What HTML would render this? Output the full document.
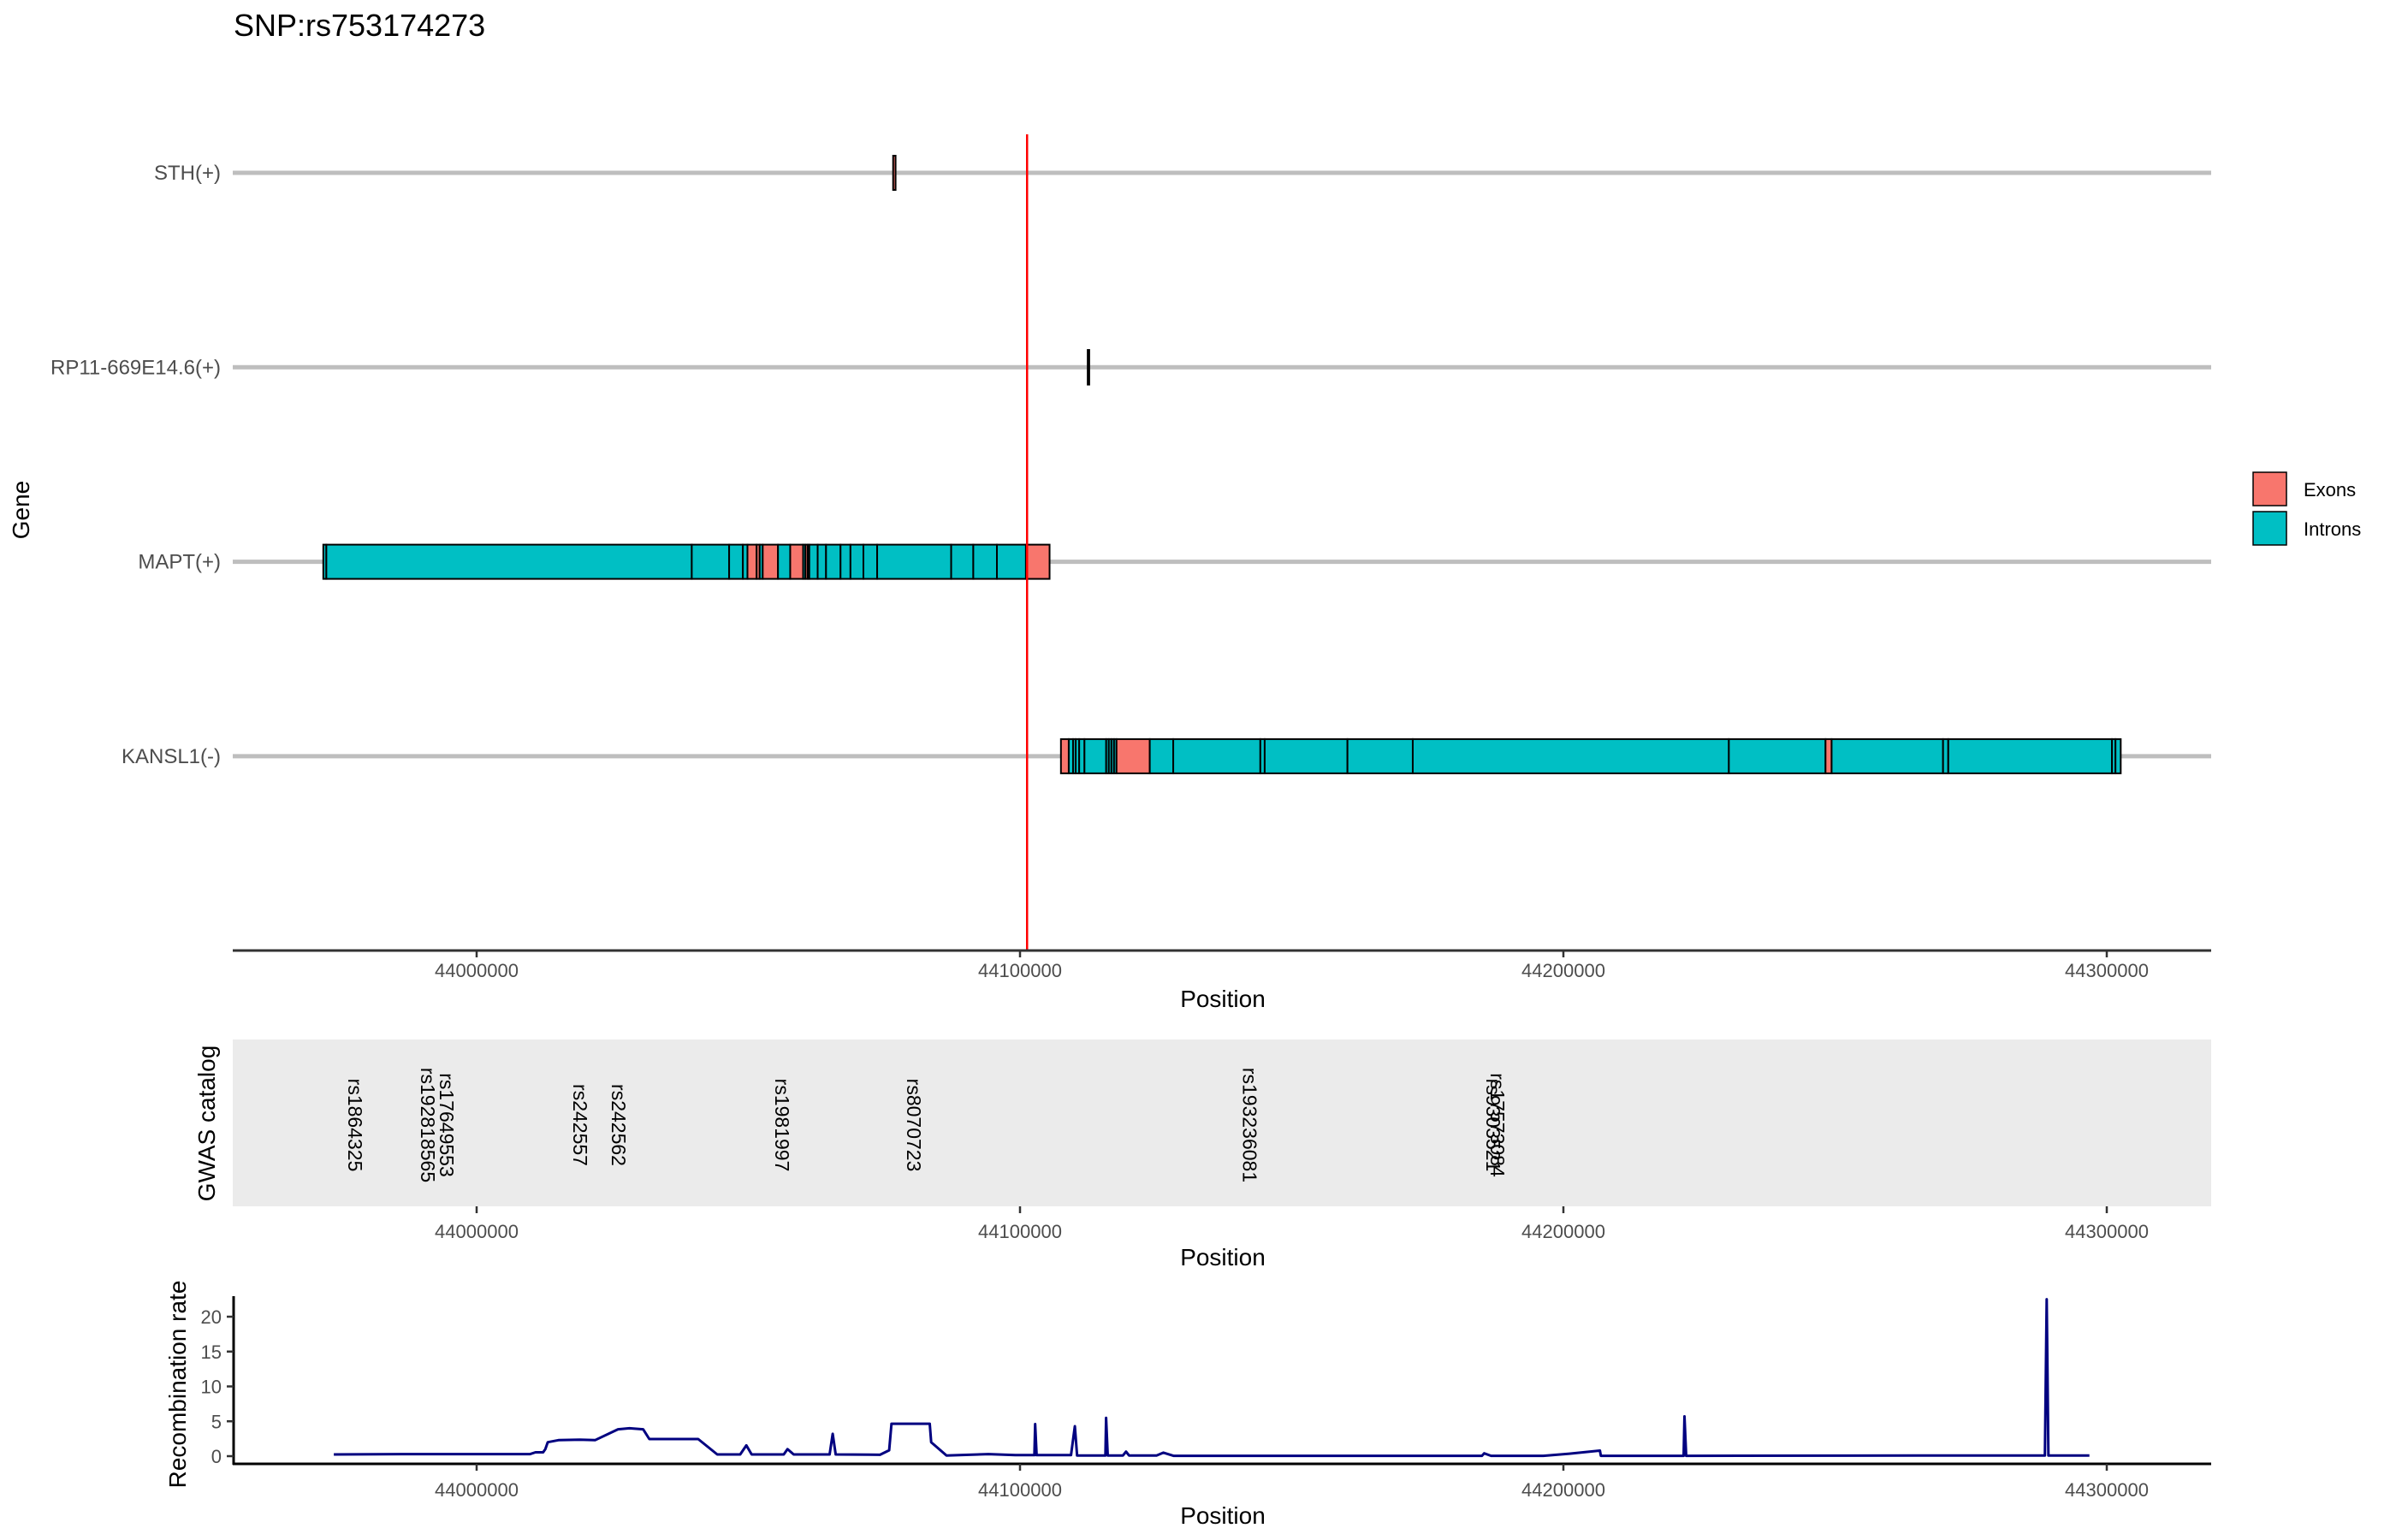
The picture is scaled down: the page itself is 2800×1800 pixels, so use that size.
<!DOCTYPE html>
<html><head><meta charset="utf-8"><style>
body{margin:0;background:#fff}
svg{display:block;font-family:"Liberation Sans",sans-serif}
</style></head><body>
<svg id="chart" width="2800" height="1800" viewBox="0 0 2800 1800" xmlns="http://www.w3.org/2000/svg">
<rect width="2800" height="1800" fill="#fff"/>
<text x="273" y="42" font-size="36" fill="#000">SNP:rs753174273</text>
<g id="genes"></g>
<g id="gwas"></g>
<g id="recomb"></g>
<g>
<rect x="2633" y="552" width="39" height="39" fill="#F8766D" stroke="#000" stroke-width="1.5"/>
<text x="2692" y="580" font-size="22" fill="#000">Exons</text>
<rect x="2633" y="598" width="39" height="39" fill="#00BFC4" stroke="#000" stroke-width="1.5"/>
<text x="2692" y="626" font-size="22" fill="#000">Introns</text>
</g>
</svg>
<script>
const geneNames = ["STH(+)", "RP11-669E14.6(+)", "MAPT(+)", "KANSL1(-)"];
const xTicks = [44000000, 44100000, 44200000, 44300000];
const snpPos = 44101300;
const sthMarker = [44076650, 44077100];
const rp11Marker = [44112500, 44112700];
const maptBounds = [43971780,43972340,44039590,44046470,44049000,44049840,44051530,44052090,44052650,44055460,44057710,44060090,44060510,44060930,44061220,44062760,44064300,44066970,44068800,44071180,44073710,44087330,44091400,44095750,44101090,44105440];
const maptTypes = ["I","I","I","I","I","E","E","I","E","I","E","I","E","I","I","I","I","I","I","I","I","I","I","I","E"];
const kanslBounds = [44107530,44108970,44109770,44110250,44110890,44111860,44115860,44116340,44116820,44117300,44117760,44123880,44128200,44144230,44145030,44160260,44172280,44230450,44248240,44249360,44269870,44270830,44300960,44301600,44302570];
const kanslTypes = ["E","I","I","I","I","I","I","I","I","I","E","I","I","I","I","I","I","I","E","I","I","I","I","I"];
const gwasIds = ["rs1864325","rs192818565","rs17649553","rs242557","rs242562","rs1981997","rs8070723","rs193236081","rs9303521","rs17573084"];
const gwasPos = [43977640,43991020,43994490,44019060,44026140,44056220,44080470,44142300,44187090,44187880];
const recPos = [43973710,43986220,44009840,44010830,44012230,44012650,44013080,44015050,44018980,44021790,44026010,44028120,44030650,44031780,44040770,44044290,44048510,44049630,44050620,44056520,44057220,44058350,44064960,44065520,44066080,44074240,44075920,44076350,44083380,44083660,44086470,44094200,44099120,44102640,44102780,44103060,44109390,44110090,44110510,44115710,44115850,44116140,44118950,44119510,44120070,44125140,44126400,44128230,44185000,44185420,44186700,44196310,44201120,44206730,44206890,44222120,44222280,44222600,44265220,44288620,44288940,44289260,44296800];
const recRate = [0.25,0.3,0.3,0.55,0.55,1.0,2.0,2.3,2.35,2.3,3.85,4.0,3.85,2.45,2.45,0.25,0.25,1.55,0.25,0.25,1.0,0.25,0.25,3.2,0.25,0.2,0.85,4.65,4.65,2.0,0.1,0.3,0.15,0.15,4.6,0.15,0.15,4.3,0.1,0.1,5.5,0.1,0.1,0.65,0.1,0.1,0.5,0.05,0.05,0.4,0.05,0.05,0.35,0.8,0.05,0.05,5.7,0.05,0.1,0.1,22.5,0.1,0.1];
const recTicks = [0,5,10,15,20];

const NS = "http://www.w3.org/2000/svg";
const X0 = 272, X1 = 2584;
function xs(v){ return 557 + (v - 44000000) / 100000 * 635; }
function geneY(i){ return 202 + i * 227.3; }
function ry(v){ return 1702 - v * 8.15; }
function mk(parent, tag, attrs){
  const e = document.createElementNS(NS, tag);
  for (const k in attrs) e.setAttribute(k, attrs[k]);
  parent.appendChild(e); return e;
}
const G = document.getElementById('genes');
geneNames.forEach((n, i) => {
  const y = geneY(i);
  const l = mk(G, 'line', {x1: X0, x2: X1, y1: y, y2: y, stroke: '#bebebe', 'stroke-width': 5});
  
  
  const t = mk(G, 'text', {x: 258, y: y + 8, 'font-size': 24, fill: '#4d4d4d', 'text-anchor': 'end'});
  t.textContent = n;
  
  
});
function drawGene(bounds, types, row){
  const y = geneY(row);
  for (let k = 0; k < types.length; k++){
    const r = mk(G, 'rect', {x: xs(bounds[k]), y: y - 20, width: Math.max(xs(bounds[k+1]) - xs(bounds[k]), 0.5), height: 40, fill: types[k] === 'E' ? '#F8766D' : '#00BFC4', stroke: '#000', 'stroke-width': 2});
    
    
  }
}
drawGene(maptBounds, maptTypes, 2);
drawGene(kanslBounds, kanslTypes, 3);
const sm = mk(G, 'rect', {x: xs(sthMarker[0]), y: geneY(0) - 20, width: xs(sthMarker[1]) - xs(sthMarker[0]), height: 40, fill: '#F8766D', stroke: '#000', 'stroke-width': 2});


const rm = mk(G, 'rect', {x: xs(rp11Marker[0]), y: geneY(1) - 20, width: xs(rp11Marker[1]) - xs(rp11Marker[0]), height: 40, fill: '#00BFC4', stroke: '#000', 'stroke-width': 2.5});


const snp = mk(G, 'line', {x1: xs(snpPos), x2: xs(snpPos), y1: 157, y2: 1111, stroke: '#ff0000', 'stroke-width': 2.5});


function xAxis(parent, y, lineColor, labelY, titleY, withLine){
  if (withLine){
    const a = mk(parent, 'line', {x1: X0, x2: X1, y1: y, y2: y, stroke: lineColor, 'stroke-width': 3});
    
    
  }
  xTicks.forEach(v => {
    const tk = mk(parent, 'line', {x1: xs(v), x2: xs(v), y1: y, y2: y + 8, stroke: '#333', 'stroke-width': 2.5});
    
    
    const tl = mk(parent, 'text', {x: xs(v), y: labelY, 'font-size': 22, fill: '#4d4d4d', 'text-anchor': 'middle'});
    tl.textContent = String(v);
    
    
  });
  const tt = mk(parent, 'text', {x: 1429, y: titleY, 'font-size': 28, fill: '#000', 'text-anchor': 'middle'});
  tt.textContent = 'Position';
  
  
}
xAxis(G, 1111, '#333', 1142, 1177, true);
const gy = mk(G, 'text', {transform: 'translate(34,596) rotate(-90)', 'font-size': 28, fill: '#000', 'text-anchor': 'middle'});
gy.textContent = 'Gene';



const W = document.getElementById('gwas');
const bg = mk(W, 'rect', {x: X0, y: 1215, width: X1 - X0, height: 195, fill: '#ebebeb'});


gwasIds.forEach((id, i) => {
  const x = xs(gwasPos[i]);
  const t = mk(W, 'text', {transform: 'translate(' + (x - 8) + ',1315) rotate(90)', 'font-size': 23, fill: '#000', 'text-anchor': 'middle'});
  t.textContent = id;
  
  
});
xAxis(W, 1410, '#333', 1447, 1479, false);
const wy = mk(W, 'text', {transform: 'translate(251,1313) rotate(-90)', 'font-size': 28, fill: '#000', 'text-anchor': 'middle'});
wy.textContent = 'GWAS catalog';



const R = document.getElementById('recomb');
const ya = mk(R, 'line', {x1: 273, x2: 273, y1: 1515, y2: 1712, stroke: '#000', 'stroke-width': 3});


recTicks.forEach(v => {
  const tk = mk(R, 'line', {x1: 265, x2: 273, y1: ry(v), y2: ry(v), stroke: '#333', 'stroke-width': 2.5});
  
  
  const tl = mk(R, 'text', {x: 259, y: ry(v) + 8, 'font-size': 22, fill: '#4d4d4d', 'text-anchor': 'end'});
  tl.textContent = String(v);
  
  
});
const pts = recPos.map((p, i) => xs(p).toFixed(1) + ',' + ry(recRate[i]).toFixed(1)).join(' ');
const pl = mk(R, 'polyline', {points: pts, fill: 'none', stroke: '#000080', 'stroke-width': 3, 'stroke-linejoin': 'round'});


xAxis(R, 1711, '#000', 1749, 1781, true);
const ry2 = mk(R, 'text', {transform: 'translate(217,1618) rotate(-90)', 'font-size': 28, fill: '#000', 'text-anchor': 'middle'});
ry2.textContent = 'Recombination rate';


</script>
</body></html>
